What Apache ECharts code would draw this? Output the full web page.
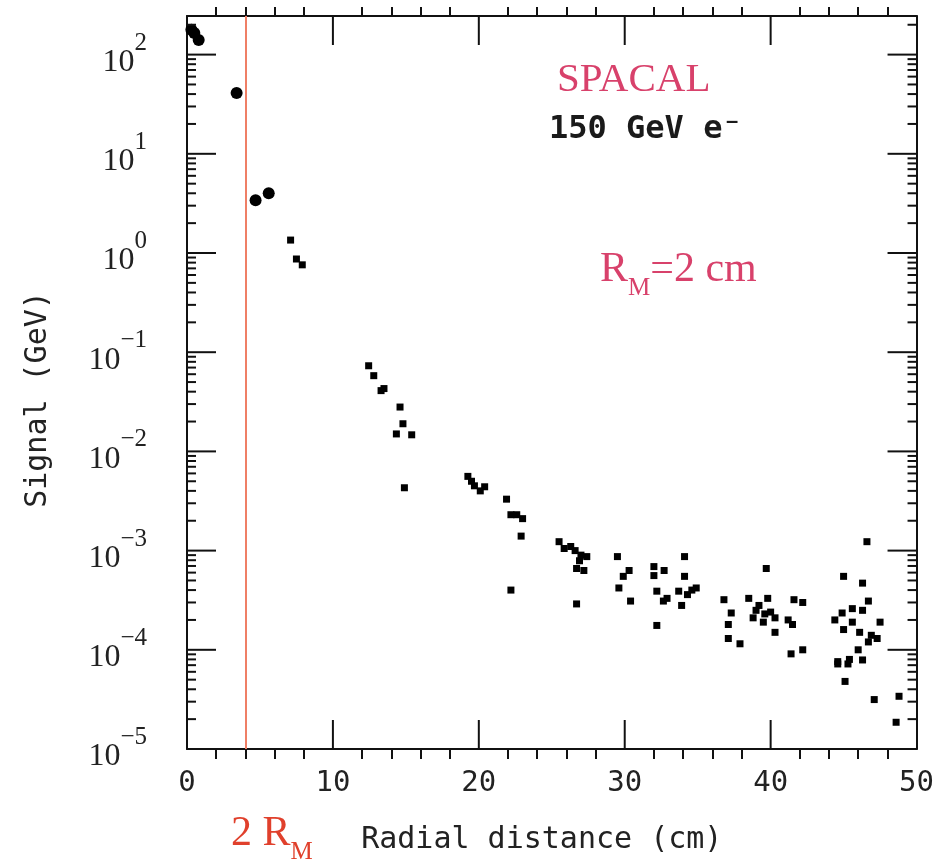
<!DOCTYPE html>
<html>
<head>
<meta charset="UTF-8">
<title>SPACAL radial profile</title>
<style>
  html, body { margin: 0; padding: 0; background: #fff; }
  #chart { width: 937px; height: 860px; }
</style>
</head>
<body>
<div id="chart"></div>
<script src="https://cdn.jsdelivr.net/npm/echarts@6/dist/echarts.min.js"></script>
<script>
// radial distance (cm), signal (GeV)
var corePoints = [
  [0.3, 178], [0.5, 165], [0.8, 140], [3.4, 41], [4.7, 3.4], [5.6, 4.0]
];
var tailPoints = [
  [7.1, 1.35], [7.5, 0.87], [7.9, 0.76],
  [12.45, 0.073], [12.8, 0.058], [13.3, 0.041], [13.5, 0.043],
  [14.6, 0.028], [14.8, 0.019], [14.35, 0.015], [15.4, 0.0147], [14.9, 0.0043],
  [19.25, 0.0056], [19.5, 0.005], [19.7, 0.0045], [20.1, 0.0040], [20.4, 0.0044],
  [21.9, 0.0033], [22.2, 0.0023], [22.6, 0.0023], [23.0, 0.0021], [22.9, 0.0014], [22.2, 0.0004],
  [25.5, 0.00123], [25.85, 0.00105], [26.3, 0.0011], [26.6, 0.0010], [26.9, 0.00079],
  [27.4, 0.00087], [26.7, 0.00066], [27.2, 0.00063], [27.0, 0.0009], [26.7, 0.00029],
  [29.5, 0.00087], [30.3, 0.00063], [29.9, 0.00055], [29.6, 0.00042], [30.4, 0.00031],
  [32.0, 0.00069], [32.7, 0.00063], [32.0, 0.00056], [32.2, 0.00039], [32.65, 0.00031],
  [32.9, 0.00033], [32.2, 0.000176],
  [34.1, 0.00087], [34.1, 0.00055], [33.7, 0.00039], [34.6, 0.0004], [34.9, 0.00042],
  [33.9, 0.00028], [34.3, 0.00036], [36.8, 0.00032],
  [39.7, 0.00066], [37.3, 0.000235], [37.1, 0.00018], [37.1, 0.00013], [37.9, 0.000115],
  [38.5, 0.00033], [39.2, 0.00028], [39.8, 0.00033], [38.8, 0.00021], [39.5, 0.00019],
  [40.0, 0.00024], [39.0, 0.00025], [39.6, 0.00023],
  [40.3, 0.00021], [40.3, 0.00015], [41.2, 0.0002], [41.6, 0.00032], [42.2, 0.0003],
  [41.5, 0.00018], [41.4, 0.000091], [42.2, 0.0001],
  [46.6, 0.00123], [45.0, 0.00055], [46.3, 0.00047], [46.7, 0.00031], [44.9, 0.000235],
  [45.6, 0.00026], [46.3, 0.00025], [44.4, 0.0002], [45.0, 0.00016], [45.6, 0.00019],
  [47.5, 0.00019], [46.1, 0.00015], [46.9, 0.00014], [47.3, 0.00013], [46.7, 0.00012],
  [46.0, 0.0001], [45.4, 0.00008], [44.6, 0.000076], [46.3, 0.000079], [44.6, 0.000072],
  [45.3, 0.000072], [45.1, 0.000048], [47.1, 0.0000315], [48.8, 0.000034], [48.6, 0.0000186]
];
var twoRm = 4;           // 2 Moliere radii, cm
var xMin = 0, xMax = 50;
var yMin = 1e-5, yMax = 245;
var xMajor = [10, 20, 30, 40];
var decades = [-5, -4, -3, -2, -1, 0, 1, 2];
var minorSteps = [2, 3, 4, 5, 6, 7, 8, 9];

// tick values for the box frame
var yMajorTicks = decades.map(function (d) { return Math.pow(10, d); });
var yMinorTicks = [];
decades.forEach(function (d) {
  minorSteps.forEach(function (m) {
    var v = m * Math.pow(10, d);
    if (v < yMax) yMinorTicks.push(v);
  });
});

var chart = echarts.init(document.getElementById('chart'));

var serif = '"Liberation Serif", "DejaVu Serif", serif';
var mono = '"DejaVu Sans Mono", "Liberation Mono", monospace';
var pink = '#d8416b';
var ink = '#111';

function yLabel(v) {
  var e = Math.round(Math.log10(v));
  if (Math.abs(Math.log10(v) - e) > 1e-6) return '';
  var s = e < 0 ? '\u2212' + (-e) : String(e);
  return '{b|10}{s|' + s + '}';
}

// one series per frame edge, ticks point into the plot
function tickSeries(values, edge, len) {
  var data = values.map(function (v) {
    if (edge === 'left') return [xMin, v];
    if (edge === 'right') return [xMax, v];
    if (edge === 'bottom') return [v, yMin];
    return [v, yMax];
  });
  return {
    type: 'custom', data: data, silent: true, z: 10, clip: false,
    renderItem: function (params, api) {
      var p = api.coord([api.value(0), api.value(1)]);
      var dx = 0, dy = 0;
      if (edge === 'left') dx = len;
      if (edge === 'right') dx = -len;
      if (edge === 'bottom') dy = -len;
      if (edge === 'top') dy = len;
      return {
        type: 'line',
        shape: { x1: p[0], y1: p[1], x2: p[0] + dx, y2: p[1] + dy },
        style: { stroke: ink, lineWidth: 2 }
      };
    }
  };
}

var axisLine = { show: true, onZero: false, lineStyle: { color: ink, width: 2 } };

option = {
  animation: false,
  backgroundColor: '#fff',
  grid: { left: 187, right: 15, top: 16, bottom: 103 },
  xAxis: [{
    type: 'value', min: xMin, max: xMax, interval: 10, position: 'bottom',
    axisLine: axisLine,
    axisTick: { show: false },
    minorTick: { show: true, splitNumber: 5, length: 10, lineStyle: { color: ink, width: 2 } },
    splitLine: { show: false },
    axisLabel: { margin: 20, fontFamily: mono, fontSize: 29, color: '#222' },
    name: 'Radial distance (cm)',
    nameLocation: 'middle',
    nameGap: 76,
    nameTextStyle: { fontFamily: mono, fontSize: 30, color: '#222', padding: [0, 20, 0, 0] }
  }, {
    type: 'value', min: xMin, max: xMax, interval: 10, position: 'top',
    axisLine: axisLine,
    axisTick: { show: false },
    minorTick: { show: true, splitNumber: 5, length: 9, lineStyle: { color: ink, width: 2 } },
    splitLine: { show: false },
    axisLabel: { show: false }
  }],
  yAxis: [{
    type: 'log', logBase: 10, min: yMin, max: yMax, interval: 1, position: 'left',
    axisLine: axisLine,
    axisTick: { show: false },
    splitLine: { show: false },
    axisLabel: {
      margin: 40,
      formatter: yLabel,
      rich: {
        b: { fontFamily: serif, fontSize: 32, color: '#222', lineHeight: 48, verticalAlign: 'bottom' },
        s: { fontFamily: serif, fontSize: 25, color: '#222', lineHeight: 22, verticalAlign: 'top' }
      }
    },
    name: 'Signal (GeV)',
    nameLocation: 'middle',
    nameGap: 134,
    nameTextStyle: { fontFamily: mono, fontSize: 30, color: '#222', padding: [0, 34, 0, 0] }
  }, {
    type: 'log', logBase: 10, min: yMin, max: yMax, interval: 1, position: 'right',
    axisLine: axisLine,
    axisTick: { show: false },
    splitLine: { show: false },
    axisLabel: { show: false }
  }],
  graphic: [
    {
      type: 'text', left: 557, top: 60,
      style: { text: 'SPACAL', fontFamily: serif, fontSize: 41, fill: pink }
    },
    {
      type: 'text', left: 549, top: 114,
      style: { text: '150 GeV e\u207B', fontFamily: mono, fontSize: 32, fontWeight: 'bold', fill: '#1a1a1a' }
    },
    {
      type: 'text', left: 600, top: 249,
      style: {
        text: '{r|R}{m|M}{r|=2 cm}',
        rich: {
          r: { fontFamily: serif, fontSize: 42, fill: pink, lineHeight: 44, verticalAlign: 'top' },
          m: { fontFamily: serif, fontSize: 25, fill: pink, lineHeight: 44, verticalAlign: 'bottom', padding: [0, 0, -8, 0] }
        }
      }
    },
    {
      type: 'text', left: 231, top: 813,
      style: {
        text: '{r|2 R}{m|M}',
        rich: {
          r: { fontFamily: serif, fontSize: 42, fill: '#e0402c', lineHeight: 44, verticalAlign: 'top' },
          m: { fontFamily: serif, fontSize: 25, fill: '#e0402c', lineHeight: 44, verticalAlign: 'bottom', padding: [0, 0, -8, 0] }
        }
      }
    }
  ],
  series: [
    {
      type: 'scatter', name: 'core', data: corePoints,
      symbol: 'circle', symbolSize: 12,
      itemStyle: { color: '#000', opacity: 1 }, z: 5,
      markLine: {
        silent: true, symbol: 'none',
        label: { show: false },
        lineStyle: { color: '#ef7f66', width: 2, type: 'solid' },
        data: [{ xAxis: twoRm }]
      }
    },
    {
      type: 'scatter', name: 'tail', data: tailPoints,
      symbol: 'rect', symbolSize: 7,
      itemStyle: { color: '#000', opacity: 1 }, z: 5
    },
    tickSeries(yMajorTicks, 'left', 29),
    tickSeries(yMajorTicks, 'right', 29),
    tickSeries(yMinorTicks, 'left', 9),
    tickSeries(yMinorTicks, 'right', 9),
    tickSeries(xMajor, 'bottom', 29),
    tickSeries(xMajor, 'top', 29)
  ]
};

chart.setOption(option);
</script>
</body>
</html>
